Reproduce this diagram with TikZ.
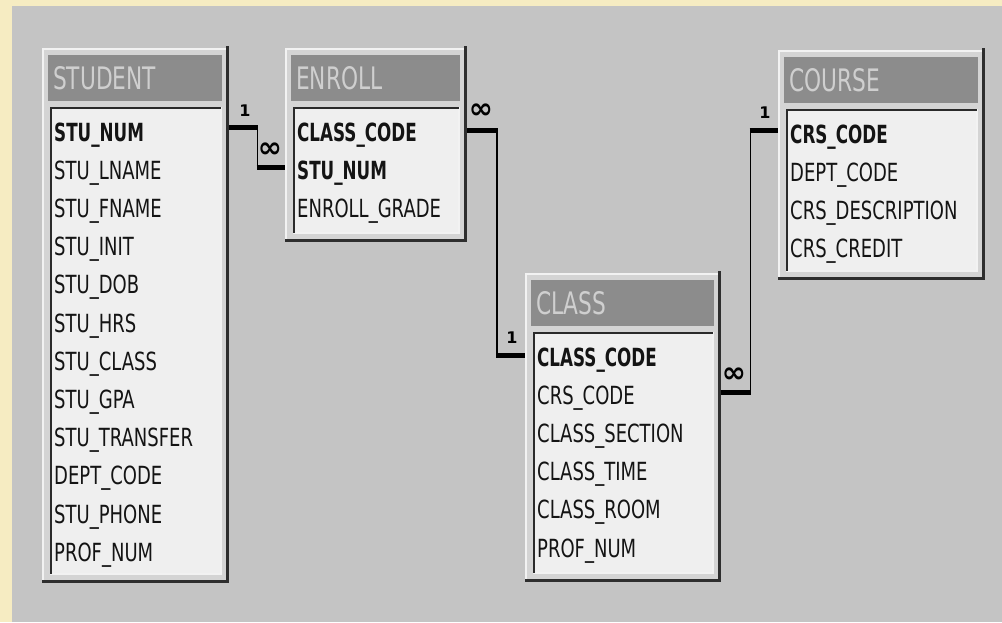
\documentclass[tikz,border=0pt]{standalone}
\usepackage{fontspec}
\newfontfamily\fieldfont[FakeStretch=0.72]{DejaVu Sans}
\newfontfamily\keyfont[FakeStretch=0.67]{DejaVu Sans}
\newfontfamily\titlefont[FakeStretch=0.70]{DejaVu Sans}
\newfontfamily\symfont{DejaVu Sans}

\definecolor{cream}{HTML}{F6ECC2}
\definecolor{panel}{HTML}{C4C4C4}
\definecolor{face}{HTML}{D4D4D4}
\definecolor{hilite}{HTML}{F2F2F2}
\definecolor{shade}{HTML}{2E2E2E}
\definecolor{titlebar}{HTML}{8C8C8C}
\definecolor{titleink}{HTML}{CFCFCF}
\definecolor{listbg}{HTML}{EFEFEF}
\definecolor{listedge}{HTML}{2A2A2A}
\definecolor{ink}{HTML}{141414}

\tikzset{
  frame/.style={draw=none, fill=face, inner sep=0pt, outer sep=0pt},
  hl/.style={draw=hilite, line width=2pt},
  sh/.style={draw=shade, line width=3pt},
  titletext/.style={anchor=base west, inner sep=0pt, text=titleink,
    font=\titlefont\fontsize{31}{33}\selectfont},
  fieldtext/.style={anchor=base west, inner sep=0pt, text=ink,
    font=\fontsize{25}{28}\selectfont},
  stub/.style={draw=black, line width=5pt, line cap=butt},
  link/.style={draw=black, line width=1.8pt},
  onelabel/.style={inner sep=0pt, font=\symfont\bfseries\fontsize{16}{16}\selectfont},
  manylabel/.style={inner sep=0pt, font=\symfont\bfseries\fontsize{29}{29}\selectfont}
}

% #1 name, #2-#5 frame box (left, top, right, bottom), #6 title,
% #7 number of key fields, #8 field list
\newcommand\ertable[8]{%
  \node[frame, minimum width={(#4-#2)*1pt}, minimum height={(#5-#3)*1pt}]
    (#1) at ({(#2+#4)/2},{(#3+#5)/2}) {};
  \draw[hl] ({#2+1},{#5-2}) -- ({#2+1},{#3+1}) -- ({#4-2},{#3+1});
  \draw[sh] ({#4-1.5},{#3-2}) -- ({#4-1.5},{#5-1.5}) -- ({#2},{#5-1.5});
  \fill[titlebar] ({#2+6},{#3+7}) rectangle ({#4-7},{#3+53});
  \node[titletext] (#1-title) at ({#2+11},{#3+41}) {#6};
  \fill[listbg] ({#2+8},{#3+59}) rectangle ({#4-8},{#5-9});
  \draw[draw=hilite, line width=1.5pt] ({#2+8},{#5-9}) -- ({#4-8},{#5-9}) -- ({#4-8},{#3+59});
  \draw[draw=listedge, line width=2.5pt] ({#2+9},{#5-9}) -- ({#2+9},{#3+60}) -- ({#4-8},{#3+60});
  \foreach \f [count=\i] in {#8} {
    \node[fieldtext] (#1-\i) at ({#2+12},{#3+93+38.2*(\i-1)})
      {\ifnum\i>#7 \fieldfont\else\keyfont\bfseries\fi\f};
  }%
}

\begin{document}
\begin{tikzpicture}[x=1pt, y=-1pt]
  \useasboundingbox (0,0) rectangle (1002,622);
  \fill[cream] (0,0) rectangle (1002,622);
  \fill[panel] (12,6) rectangle (1002,622);

  \ertable{student}{42}{48}{229}{583}{STUDENT}{1}{STU\_NUM, STU\_LNAME, STU\_FNAME,
    STU\_INIT, STU\_DOB, STU\_HRS, STU\_CLASS, STU\_GPA, STU\_TRANSFER,
    DEPT\_CODE, STU\_PHONE, PROF\_NUM}
  \ertable{enroll}{285}{48}{467}{242}{ENROLL}{2}{CLASS\_CODE, STU\_NUM, ENROLL\_GRADE}
  \ertable{course}{778}{50}{985}{280}{COURSE}{1}{CRS\_CODE, DEPT\_CODE,
    CRS\_DESCRIPTION, CRS\_CREDIT}
  \ertable{class}{525}{273}{721}{582}{CLASS}{1}{CLASS\_CODE, CRS\_CODE,
    CLASS\_SECTION, CLASS\_TIME, CLASS\_ROOM, PROF\_NUM}

  % STUDENT 1 -- many ENROLL
  \coordinate (ja) at (257.5,127.5);
  \coordinate (jb) at (257.5,167);
  \draw[link] (ja) -- (jb);
  \draw[stub] (student.east |- ja) -- ([xshift=0.9pt]ja);
  \draw[stub] ([xshift=-0.9pt]jb) -- (enroll.west |- jb);
  \node[onelabel] (one-a) at (245,111) {1};
  \node[manylabel] (many-a) at (270,150) {∞};

  % CLASS 1 -- many ENROLL
  \coordinate (jc) at (497,130);
  \coordinate (jd) at (497,355);
  \draw[link] (jc) -- (jd);
  \draw[stub] (enroll.east |- jc) -- ([xshift=0.9pt]jc);
  \draw[stub] ([xshift=-0.9pt]jd) -- (class.west |- jd);
  \node[manylabel] (many-b) at (481,111) {∞};
  \node[onelabel] (one-b) at (512,338) {1};

  % COURSE 1 -- many CLASS
  \coordinate (je) at (750.5,392);
  \coordinate (jf) at (750.5,130);
  \draw[link] (je) -- (jf);
  \draw[stub] (class.east |- je) -- ([xshift=0.9pt]je);
  \draw[stub] ([xshift=-0.9pt]jf) -- (course.west |- jf);
  \node[manylabel] (many-c) at (734,375) {∞};
  \node[onelabel] (one-c) at (765,113) {1};
\end{tikzpicture}
\end{document}
